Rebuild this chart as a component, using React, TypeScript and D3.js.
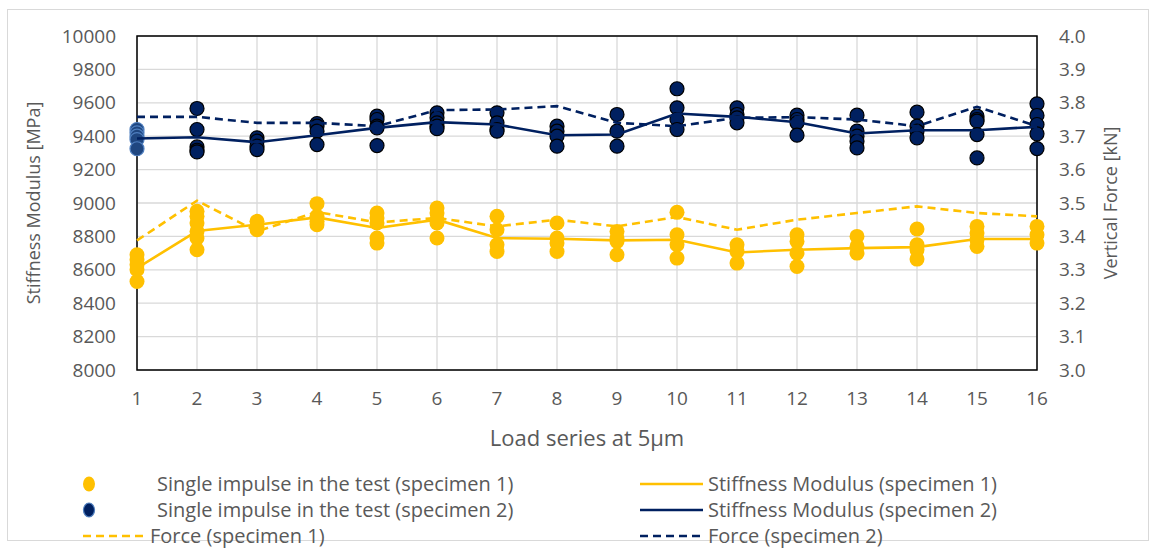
import React, { useEffect, useRef } from 'react';
import * as d3 from 'd3';

// load series 1..16
const categories = [1, 2, 3, 4, 5, 6, 7, 8, 9, 10, 11, 12, 13, 14, 15, 16];

// stiffness modulus averages [MPa]
const stiffness1 = [8610, 8832, 8870, 8914, 8850, 8900, 8790, 8786, 8776, 8780, 8704, 8720, 8730, 8736, 8784, 8784];
const stiffness2 = [9386, 9394, 9364, 9406, 9450, 9484, 9470, 9406, 9410, 9536, 9516, 9484, 9416, 9436, 9436, 9456];

// vertical force [kN]
const force1 = [3.388, 3.507, 3.415, 3.473, 3.442, 3.455, 3.43, 3.45, 3.43, 3.458, 3.42, 3.45, 3.47, 3.49, 3.47, 3.46];
const force2 = [3.758, 3.758, 3.74, 3.74, 3.73, 3.778, 3.78, 3.79, 3.74, 3.73, 3.755, 3.757, 3.75, 3.73, 3.788, 3.73];

// single impulses [MPa]
const impulses1 = [
  [8690, 8660, 8630, 8600, 8530],
  [8950, 8920, 8880, 8830, 8790, 8720],
  [8890, 8860, 8840],
  [8996, 8920, 8890, 8870],
  [8940, 8910, 8880, 8790, 8760],
  [8970, 8940, 8900, 8880, 8790],
  [8920, 8840, 8750, 8710],
  [8880, 8790, 8760, 8710],
  [8830, 8790, 8770, 8690],
  [8944, 8810, 8750, 8670],
  [8750, 8710, 8640],
  [8810, 8770, 8700, 8620],
  [8800, 8740, 8700],
  [8844, 8750, 8720, 8664],
  [8860, 8820, 8780, 8740],
  [8860, 8810, 8760],
];
const impulses2 = [
  [9440, 9420, 9400, 9380, 9325],
  [9566, 9440, 9336, 9316, 9306],
  [9390, 9370, 9340, 9320],
  [9476, 9460, 9430, 9350],
  [9520, 9500, 9460, 9450, 9344],
  [9540, 9510, 9480, 9460, 9445],
  [9540, 9480, 9440, 9430],
  [9460, 9430, 9400, 9340],
  [9530, 9430, 9340],
  [9684, 9570, 9500, 9440],
  [9570, 9530, 9510, 9480],
  [9526, 9500, 9480, 9406],
  [9526, 9430, 9400, 9370, 9330],
  [9544, 9460, 9430, 9390],
  [9520, 9500, 9490, 9410, 9270],
  [9594, 9524, 9470, 9414, 9326],
];

const leftTicks = [8000, 8200, 8400, 8600, 8800, 9000, 9200, 9400, 9600, 9800, 10000];
const rightTicks = [3.0, 3.1, 3.2, 3.3, 3.4, 3.5, 3.6, 3.7, 3.8, 3.9, 4.0];

const YELLOW = '#FFC000';
const NAVY = '#002060';
const GREY_TEXT = '#595959';
const FONT = "'Open Sans', sans-serif";

export default function App() {
  const svgRef = useRef<SVGSVGElement>(null);

  useEffect(() => {
    if (!svgRef.current) return;
    const svg = d3.select(svgRef.current);
    svg.selectAll('*').remove();

    const left = 137, right = 1037, top = 36, bottom = 370;

    const x = d3.scaleLinear().domain([1, 16]).range([left, right]);
    const y = d3.scaleLinear().domain([8000, 10000]).range([bottom, top]);
    const y2 = d3.scaleLinear().domain([3.0, 4.0]).range([bottom, top]);

    // outer frame
    svg.append('rect')
      .attr('x', 7.5).attr('y', 9.5).attr('width', 1141).attr('height', 531)
      .attr('fill', '#fff').attr('stroke', '#d9d9d9');

    // gridlines
    const grid = svg.append('g');
    leftTicks.forEach(t => {
      grid.append('line')
        .attr('x1', left).attr('x2', right).attr('y1', y(t)).attr('y2', y(t))
        .attr('stroke', '#d9d9d9').attr('stroke-width', 1.3);
    });
    categories.forEach(c => {
      grid.append('line')
        .attr('x1', x(c)).attr('x2', x(c)).attr('y1', top).attr('y2', bottom)
        .attr('stroke', '#d9d9d9').attr('stroke-width', 1.3);
    });

    // plot frame
    svg.append('rect')
      .attr('x', left).attr('y', top).attr('width', right - left).attr('height', bottom - top)
      .attr('fill', 'none').attr('stroke', '#000').attr('stroke-width', 1.5);

    // tick labels
    const tickStyle = (s: d3.Selection<SVGTextElement, unknown, null, undefined>) =>
      s.attr('fill', GREY_TEXT).style('font-family', FONT).style('font-size', '18px');

    leftTicks.forEach(t => {
      svg.append('text').attr('x', 116).attr('y', y(t)).attr('dy', '0.35em')
        .attr('text-anchor', 'end').call(tickStyle).style('font-size', '19px').text(t);
    });
    rightTicks.forEach(t => {
      svg.append('text').attr('x', 1059).attr('y', y2(t)).attr('dy', '0.35em')
        .attr('text-anchor', 'start').call(tickStyle).style('font-size', '19px').text(d3.format('.1f')(t));
    });
    categories.forEach(c => {
      svg.append('text').attr('x', x(c)).attr('y', 398).attr('dy', '0.35em')
        .attr('text-anchor', 'middle').call(tickStyle).style('font-size', '19px').text(c);
    });

    // axis titles
    svg.append('text')
      .attr('transform', `translate(34, ${(top + bottom) / 2}) rotate(-90)`)
      .attr('text-anchor', 'middle').attr('dy', '0.35em').call(tickStyle).text('Stiffness Modulus [MPa]');
    svg.append('text')
      .attr('transform', `translate(1111, ${(top + bottom) / 2}) rotate(-90)`)
      .attr('text-anchor', 'middle').attr('dy', '0.35em').call(tickStyle).text('Vertical Force [kN]');
    svg.append('text')
      .attr('x', (left + right) / 2).attr('y', 438).attr('dy', '0.35em')
      .attr('text-anchor', 'middle').call(tickStyle).style('font-size', '22px').text('Load series at 5µm');

    // scatter points
    const pts = svg.append('g');
    impulses2.forEach((vals, i) => {
      vals.forEach(v => {
        pts.append('circle')
          .attr('cx', x(categories[i])).attr('cy', y(v)).attr('r', 7)
          .attr('fill', i === 0 ? '#1f4680' : NAVY)
          .attr('stroke', i === 0 ? '#4f7fbf' : '#000').attr('stroke-width', 1.2);
      });
    });
    impulses1.forEach((vals, i) => {
      vals.forEach(v => {
        pts.append('circle')
          .attr('cx', x(categories[i])).attr('cy', y(v)).attr('r', 7.5)
          .attr('fill', YELLOW);
      });
    });

    // lines
    const lineS = d3.line<number>().x((_, i) => x(categories[i])).y(d => y(d));
    const lineF = d3.line<number>().x((_, i) => x(categories[i])).y(d => y2(d));

    const drawLine = (data: number[], gen: d3.Line<number>, color: string, dashed: boolean) => {
      svg.append('path').datum(data).attr('d', gen)
        .attr('fill', 'none').attr('stroke', color).attr('stroke-width', 2.6)
        .attr('stroke-dasharray', dashed ? '8,5' : null);
    };
    drawLine(force1, lineF, YELLOW, true);
    drawLine(force2, lineF, NAVY, true);
    drawLine(stiffness1, lineS, YELLOW, false);
    drawLine(stiffness2, lineS, NAVY, false);

    // legend
    const lg = svg.append('g');
    const legText = (tx: number, ty: number, label: string) => {
      lg.append('text').attr('x', tx).attr('y', ty).attr('dy', '0.35em')
        .call(tickStyle).style('font-size', '20px').text(label);
    };
    lg.append('ellipse').attr('cx', 89).attr('cy', 484).attr('rx', 6).attr('ry', 7.5).attr('fill', YELLOW);
    legText(157, 484, 'Single impulse in the test (specimen 1)');
    lg.append('ellipse').attr('cx', 89).attr('cy', 510).attr('rx', 5.5).attr('ry', 7).attr('fill', NAVY)
      .attr('stroke', '#4f7fbf').attr('stroke-width', 1.2);
    legText(157, 510, 'Single impulse in the test (specimen 2)');
    lg.append('line').attr('x1', 83).attr('x2', 147).attr('y1', 536).attr('y2', 536)
      .attr('stroke', YELLOW).attr('stroke-width', 2.6).attr('stroke-dasharray', '8,5');
    legText(150, 536, 'Force (specimen 1)');

    lg.append('line').attr('x1', 640).attr('x2', 703).attr('y1', 484).attr('y2', 484)
      .attr('stroke', YELLOW).attr('stroke-width', 2.6);
    legText(708, 484, 'Stiffness Modulus (specimen 1)');
    lg.append('line').attr('x1', 640).attr('x2', 703).attr('y1', 510).attr('y2', 510)
      .attr('stroke', NAVY).attr('stroke-width', 2.6);
    legText(708, 510, 'Stiffness Modulus (specimen 2)');
    lg.append('line').attr('x1', 640).attr('x2', 703).attr('y1', 536).attr('y2', 536)
      .attr('stroke', NAVY).attr('stroke-width', 2.6).attr('stroke-dasharray', '8,5');
    legText(708, 536, 'Force (specimen 2)');
  }, []);

  return (
    <svg
      ref={svgRef}
      width={1157}
      height={549}
      viewBox="0 0 1157 549"
      style={{ position: 'absolute', left: 0, top: 0, display: 'block', background: '#fff' }}
    />
  );
}
